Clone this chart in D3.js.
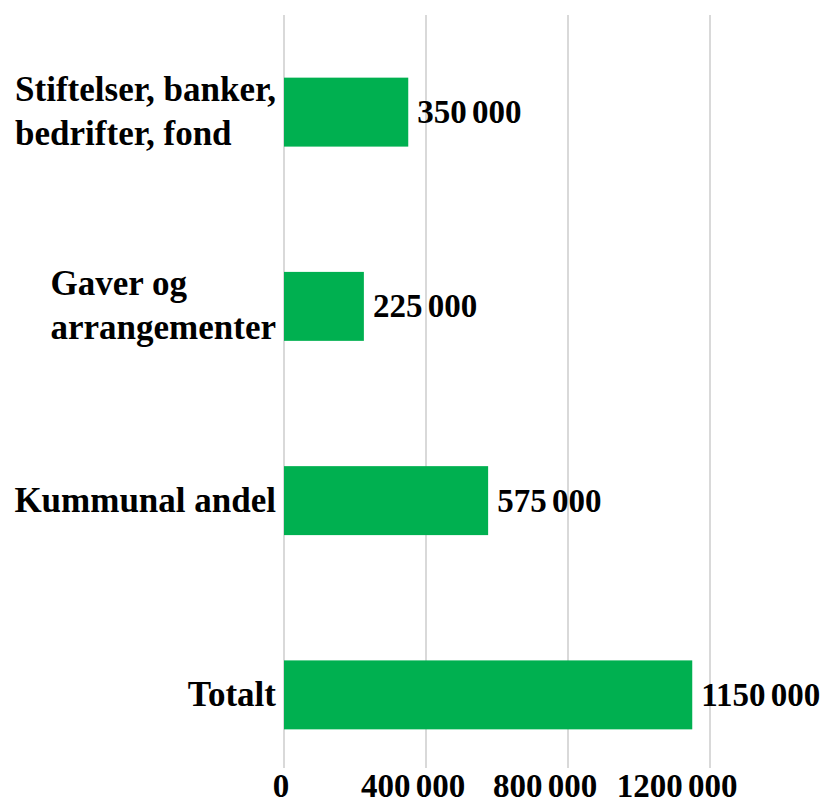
<!DOCTYPE html>
<html>
<head>
<meta charset="utf-8">
<script src="https://cdn.jsdelivr.net/npm/d3@7"></script>
<style>
  body { margin: 0; background: #fff; }
  text { font-family: "Liberation Serif", "Times New Roman", serif; font-weight: bold; fill: #000; }
  .num { word-spacing: -3px; }
</style>
</head>
<body>
<div id="chart"></div>
<script>
// Données du graphique
const categories = ["Stiftelser, banker,\nbedrifter, fond", "Gaver og\narrangementer", "Kummunal andel", "Totalt"];
const valeurs = [350000, 225000, 575000, 1150000];
const ticks = [0, 400000, 800000, 1200000];

const W = 825, H = 805;
const margin = { top: 15, left: 284, right: 115, bottom: 37 };

const svg = d3.select("#chart")
  .append("svg")
  .attr("width", W)
  .attr("height", H);

//------Echelles
const xScale = d3.scaleLinear()
  .domain([0, 1200000])
  .range([margin.left, 710]);

const yScale = d3.scaleBand()
  .domain(categories)
  .range([margin.top, 792])
  .paddingInner(0.645)
  .paddingOuter(0.3225);

// format "350 000"
const fmt = v => {
  if (v === 0) return "0";
  const mille = Math.floor(v / 1000);
  const reste = String(v % 1000).padStart(3, "0");
  return mille + " " + reste;
};

//------Grille verticale
svg.append("g")
  .selectAll("line")
  .data(ticks)
  .enter()
  .append("line")
  .attr("x1", d => xScale(d))
  .attr("x2", d => xScale(d))
  .attr("y1", margin.top)
  .attr("y2", 768)
  .attr("stroke", "#d9d9d9")
  .attr("stroke-width", 2);

//------Etiquettes de l'axe x
svg.append("g")
  .selectAll("text")
  .data(ticks)
  .enter()
  .append("text")
  .attr("class", "num")
  .attr("x", d => xScale(d) - 0.07 * (xScale(d) - xScale(0)) - 3)
  .attr("y", 797)
  .attr("text-anchor", "middle")
  .style("font-size", "33px")
  .text(fmt);

//------Barres
svg.append("g")
  .selectAll("rect")
  .data(valeurs)
  .enter()
  .append("rect")
  .attr("x", xScale(0))
  .attr("y", (d, i) => yScale(categories[i]))
  .attr("width", d => xScale(d) - xScale(0))
  .attr("height", yScale.bandwidth())
  .attr("fill", "#00b050");

//------Valeurs à droite des barres
svg.append("g")
  .selectAll("text")
  .data(valeurs)
  .enter()
  .append("text")
  .attr("class", "num")
  .attr("x", d => xScale(d) + 9)
  .attr("y", (d, i) => yScale(categories[i]) + yScale.bandwidth() / 2 + 11)
  .style("font-size", "33px")
  .text(fmt);

//------Catégories (bloc aligné à droite, lignes alignées à gauche)
const labelRight = 276;
const lineH = 44;
categories.forEach(c => {
  const lignes = c.split("\n");
  const g = svg.append("g");
  const cy = yScale(c) + yScale.bandwidth() / 2;
  const t = g.selectAll("text")
    .data(lignes)
    .enter()
    .append("text")
    .attr("x", 0)
    .attr("y", (d, i) => cy + 11 + (i - (lignes.length - 1) / 2) * lineH)
    .style("font-size", "35px")
    .text(d => d);
  let maxW = 0;
  t.each(function () { maxW = Math.max(maxW, this.getComputedTextLength()); });
  g.attr("transform", `translate(${labelRight - maxW},0)`);
});
</script>
</body>
</html>
